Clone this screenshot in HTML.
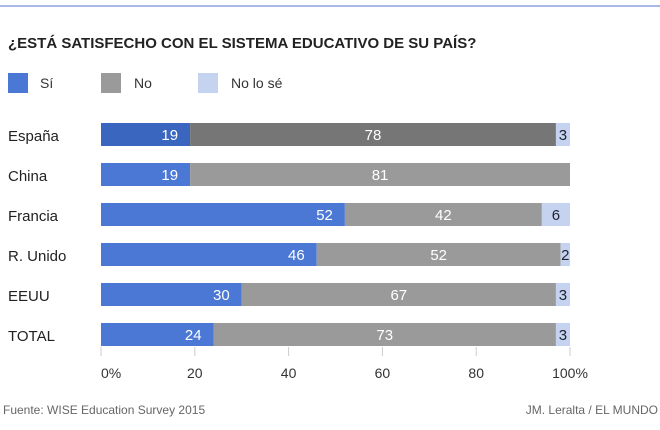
<!DOCTYPE html>
<html><head><meta charset="utf-8"><style>
body{margin:0;width:660px;height:430px;background:#fff;font-family:"Liberation Sans",sans-serif;overflow:hidden;position:relative}
.t{position:absolute;white-space:nowrap}
</style></head><body>
<div style="position:absolute;left:0;top:5px;width:660px;height:2px;background:#a8b8e8"></div>
<div class="t" style="left:8px;top:35px;font-size:15px;font-weight:bold;color:#222">¿ESTÁ SATISFECHO CON EL SISTEMA EDUCATIVO DE SU PAÍS?</div>
<div>
<div style="position:absolute;left:8px;top:73px;width:20px;height:20px;background:#4a78d4"></div>
<div class="t" style="left:40px;top:75px;font-size:14px;color:#333">Sí</div>
<div style="position:absolute;left:101px;top:73px;width:20px;height:20px;background:#9a9a9a"></div>
<div class="t" style="left:134px;top:75px;font-size:14px;color:#333">No</div>
<div style="position:absolute;left:198px;top:73px;width:20px;height:20px;background:#c5d3f0"></div>
<div class="t" style="left:231px;top:75px;font-size:14px;color:#333">No lo sé</div>
</div>
<svg id="chart" width="660" height="430" style="position:absolute;left:0;top:0"></svg>
<div class="t" style="left:3px;top:403px;font-size:12px;color:#666">Fuente: WISE Education Survey 2015</div>
<div class="t" style="right:2px;top:403px;font-size:12px;color:#666">JM. Leralta / EL MUNDO</div>
<script>
const categories=["España","China","Francia","R. Unido","EEUU","TOTAL"];
const si=[19,19,52,46,30,24];
const no=[78,81,42,52,67,73];
const nolose=[3,0,6,2,3,3];
const ticks=[0,20,40,60,80,100];
const tickLabels=["0%","20","40","60","80","100%"];
const NS="http://www.w3.org/2000/svg";
const svg=document.getElementById('chart');
const x=v=>101+v*4.69;
const y=i=>123+i*40;
function mk(t,a){const e=document.createElementNS(NS,t);for(const k in a)e.setAttribute(k,a[k]);svg.appendChild(e);return e;}
categories.forEach((c,i)=>{
  const hl=i===0;
  const lab=mk('text',{x:8,y:y(i)+18,'font-size':15,fill:'#222'});lab.textContent=c;
  
  
  const segs=[[si[i],hl?'#3a66c0':'#4a78d4','#fff'],[no[i],hl?'#767676':'#9a9a9a','#fff'],[nolose[i],'#c5d3f0','#223']];
  let acc=0;
  segs.forEach((s,j)=>{
    const v=s[0];
    if(v>0){
      const r=mk('rect',{x:x(acc),y:y(i),width:x(acc+v)-x(acc),height:23,fill:s[1]});
      
      
      const tx=j===0?x(acc+v)-12:(x(acc)+x(acc+v))/2;
      const t=mk('text',{x:tx,y:y(i)+17,'font-size':15,fill:s[2],'text-anchor':j===0?'end':'middle'});
      t.textContent=v;
      
      
    }
    acc+=v;
  });
});
ticks.forEach((v,k)=>{
  const l=mk('line',{x1:x(v),x2:x(v),y1:347,y2:356,stroke:'#ccc'});
  
  
  const t=mk('text',{x:x(v),y:378,'font-size':14,fill:'#333','text-anchor':k===0?'start':'middle'});
  t.textContent=tickLabels[k];
  
  
});
</script>
</body></html>
